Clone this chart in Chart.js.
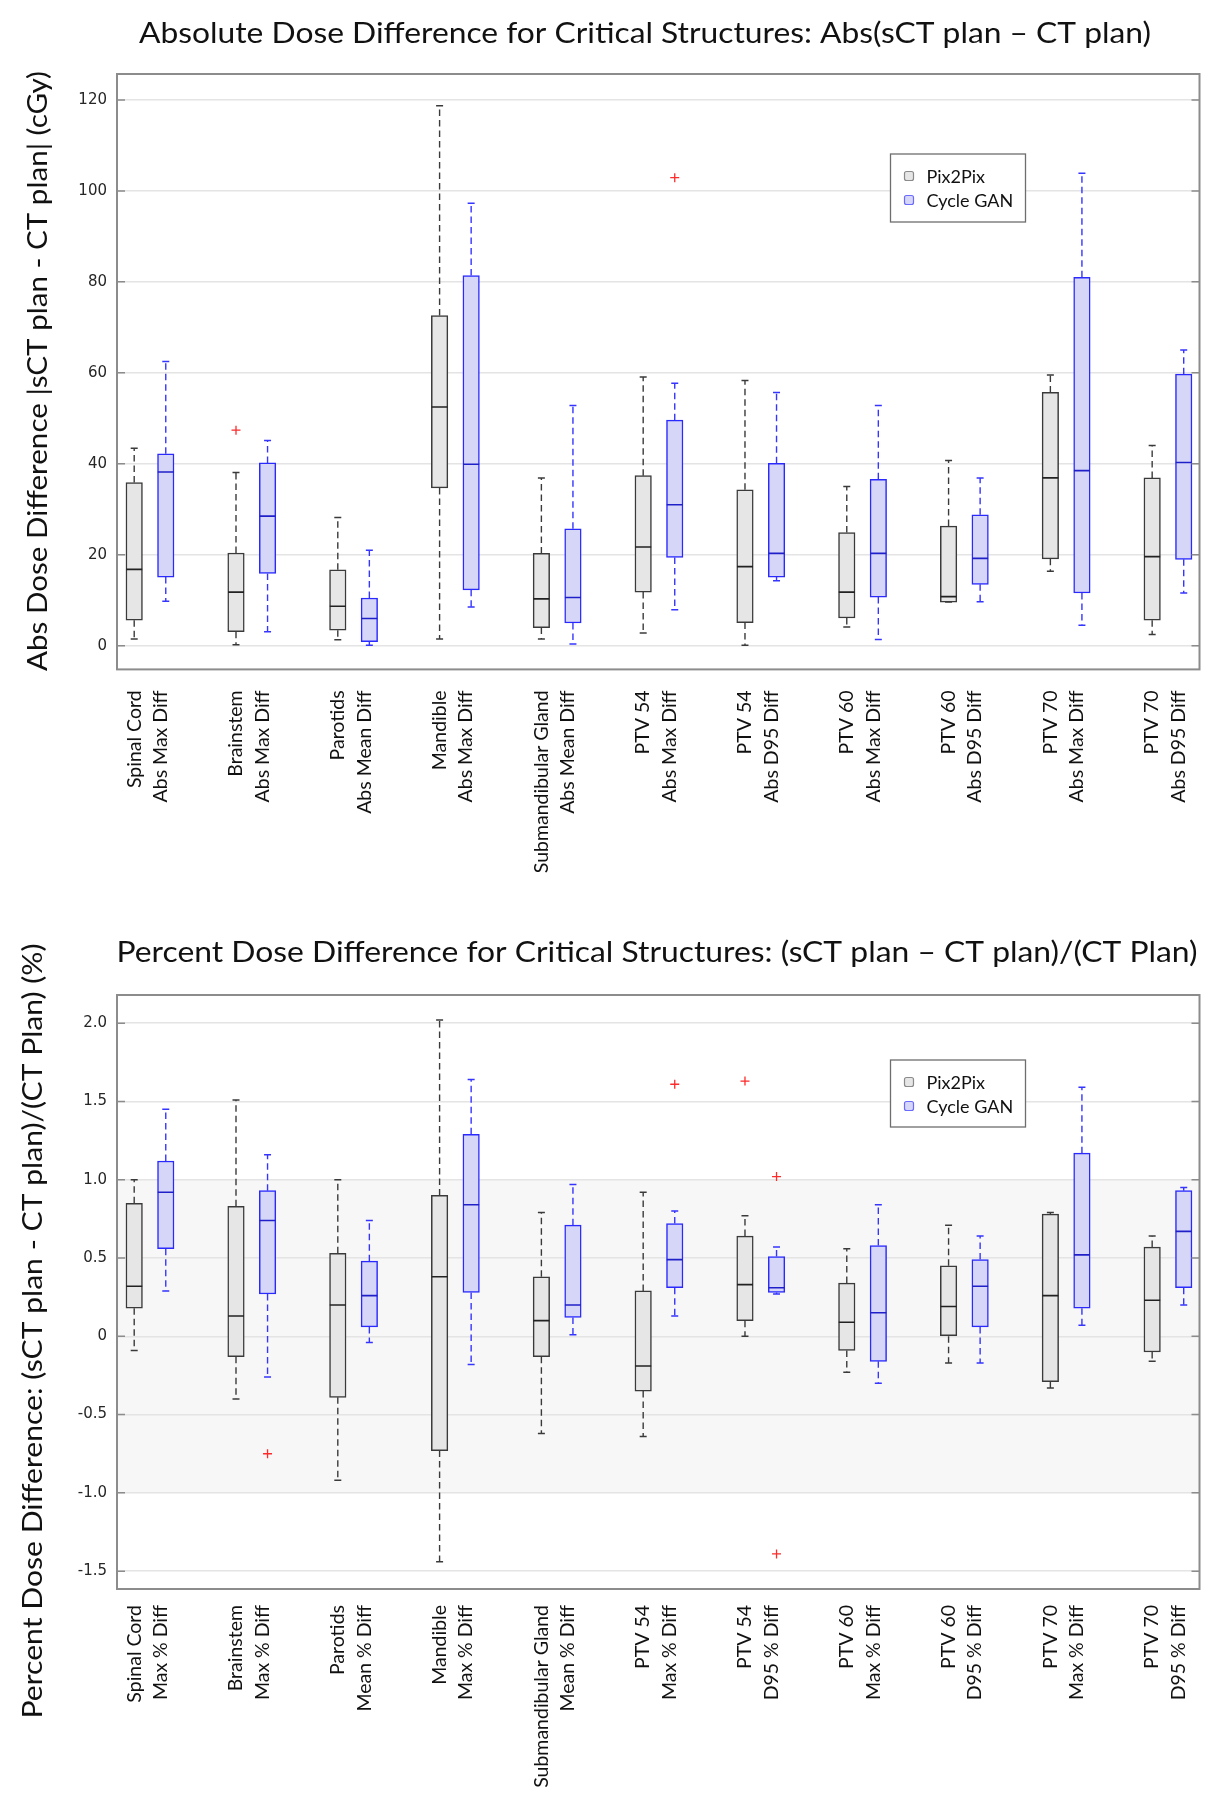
<!DOCTYPE html>
<html>
<head>
<meta charset="utf-8">
<script src="https://cdn.jsdelivr.net/npm/chart.js@4.4.1/dist/chart.umd.min.js"></script>
<style>
  html, body { margin: 0; padding: 0; background: #fff; }
  .wrap { position: relative; width: 1218px; height: 900px; }
</style>
</head>
<body>
<div class="wrap"><canvas id="absChart" width="1218" height="900"></canvas></div>
<div class="wrap"><canvas id="pctChart" width="1218" height="900"></canvas></div>
<script>
// ===================================================
// DOSE DIFFERENCE BOX PLOTS – CHART.JS
// ===================================================

const SERIES = ['Pix2Pix', 'Cycle GAN'];

// ── Absolute dose difference (cGy) ────────────────
const ABS_LABELS = [
  ['Spinal Cord', 'Abs Max Diff'], ['Brainstem', 'Abs Max Diff'], ['Parotids', 'Abs Mean Diff'],
  ['Mandible', 'Abs Max Diff'], ['Submandibular Gland', 'Abs Mean Diff'], ['PTV 54', 'Abs Max Diff'],
  ['PTV 54', 'Abs D95 Diff'], ['PTV 60', 'Abs Max Diff'], ['PTV 60', 'Abs D95 Diff'],
  ['PTV 70', 'Abs Max Diff'], ['PTV 70', 'Abs D95 Diff'],
];
const ABS_TICKS = [0, 20, 40, 60, 80, 100, 120];

const ABS_P2P_MIN = [1.5, 0.2, 1.3, 1.5, 1.5, 2.8, 0.1, 4.1, 9.6, 16.4, 2.5];
const ABS_P2P_Q1  = [5.6, 3.1, 3.4, 34.7, 4.0, 11.8, 5.1, 6.1, 9.6, 19.1, 5.6];
const ABS_P2P_MED = [16.8, 11.8, 8.7, 52.5, 10.3, 21.7, 17.4, 11.8, 10.8, 36.9, 19.6];
const ABS_P2P_Q3  = [35.9, 20.4, 16.7, 72.6, 20.3, 37.4, 34.3, 24.9, 26.3, 55.7, 36.9];
const ABS_P2P_MAX = [43.4, 38.1, 28.2, 118.7, 36.9, 59.1, 58.3, 35.0, 40.7, 59.5, 44.0];
const ABS_P2P_OUT = [[2, 47.4]];

const ABS_CYC_MIN = [9.8, 3.1, 0.1, 8.5, 0.4, 7.9, 14.3, 1.4, 9.7, 4.5, 11.6];
const ABS_CYC_Q1  = [15.1, 15.9, 0.9, 12.3, 5.0, 19.4, 15.1, 10.7, 13.5, 11.6, 19.0];
const ABS_CYC_MED = [38.2, 28.5, 6.0, 39.9, 10.6, 31.0, 20.3, 20.3, 19.2, 38.5, 40.3];
const ABS_CYC_Q3  = [42.2, 40.2, 10.5, 81.4, 25.7, 49.6, 40.1, 36.6, 28.8, 81.0, 59.7];
const ABS_CYC_MAX = [62.5, 45.1, 21.0, 97.3, 52.8, 57.7, 55.7, 52.8, 36.9, 103.9, 65.0];
const ABS_CYC_OUT = [[6, 102.9]];

// ── Percent dose difference (%) ───────────────────
const PCT_LABELS = [
  ['Spinal Cord', 'Max % Diff'], ['Brainstem', 'Max % Diff'], ['Parotids', 'Mean % Diff'],
  ['Mandible', 'Max % Diff'], ['Submandibular Gland', 'Mean % Diff'], ['PTV 54', 'Max % Diff'],
  ['PTV 54', 'D95 % Diff'], ['PTV 60', 'Max % Diff'], ['PTV 60', 'D95 % Diff'],
  ['PTV 70', 'Max % Diff'], ['PTV 70', 'D95 % Diff'],
];
const PCT_TICKS = [-1.5, -1.0, -0.5, 0, 0.5, 1.0, 1.5, 2.0];
const PCT_BAND = [-1.0, 1.0];

const PCT_P2P_MIN = [-0.09, -0.40, -0.92, -1.44, -0.62, -0.64, 0.00, -0.23, -0.17, -0.33, -0.16];
const PCT_P2P_Q1  = [0.18, -0.13, -0.39, -0.73, -0.13, -0.35, 0.10, -0.09, 0.00, -0.29, -0.10];
const PCT_P2P_MED = [0.32, 0.13, 0.20, 0.38, 0.10, -0.19, 0.33, 0.09, 0.19, 0.26, 0.23];
const PCT_P2P_Q3  = [0.85, 0.83, 0.53, 0.90, 0.38, 0.29, 0.64, 0.34, 0.45, 0.78, 0.57];
const PCT_P2P_MAX = [1.00, 1.51, 1.00, 2.02, 0.79, 0.92, 0.77, 0.56, 0.71, 0.79, 0.64];
const PCT_P2P_OUT = [[7, 1.63]];

const PCT_CYC_MIN = [0.29, -0.26, -0.04, -0.18, 0.01, 0.13, 0.27, -0.30, -0.17, 0.07, 0.20];
const PCT_CYC_Q1  = [0.56, 0.27, 0.06, 0.28, 0.12, 0.31, 0.28, -0.16, 0.06, 0.18, 0.31];
const PCT_CYC_MED = [0.92, 0.74, 0.26, 0.84, 0.20, 0.49, 0.31, 0.15, 0.32, 0.52, 0.67];
const PCT_CYC_Q3  = [1.12, 0.93, 0.48, 1.29, 0.71, 0.72, 0.51, 0.58, 0.49, 1.17, 0.93];
const PCT_CYC_MAX = [1.45, 1.16, 0.74, 1.64, 0.97, 0.80, 0.57, 0.84, 0.64, 1.59, 0.95];
const PCT_CYC_OUT = [[2, -0.75], [6, 1.61], [7, 1.02], [7, -1.39]];

// ── Styles ────────────────────────────────────────
const STYLE = {
  p2p: { fill: '#e6e6e6', edge: '#3a3a3a', whisker: '#3a3a3a', median: '#222222', shift: -0.155 },
  cyc: { fill: '#d6d6f8', edge: '#2a2aff', whisker: '#3535ff', median: '#2020c8', shift: 0.155 },
};
const X_MIN = 0.676;
const X_MAX = 11.31;

Chart.defaults.font.family = "'Lato', sans-serif";

function boxDatasets(name, s, outliers, st) {
  const xs = s.med.map((_, i) => i + 1 + st.shift);
  const whiskers = [];
  xs.forEach((x, i) => {
    whiskers.push({ x, y: s.q3[i] }, { x, y: s.max[i] }, { x, y: null },
                  { x, y: s.q1[i] }, { x, y: s.min[i] }, { x, y: null });
  });
  return [
    {
      type: 'bar', label: name,
      data: xs.map((x, i) => ({ x, y: [s.q1[i], s.q3[i]] })),
      backgroundColor: st.fill, borderColor: st.edge, borderWidth: 1.5,
      borderSkipped: false, barThickness: 16.5, grouped: false, order: 5,
    },
    {
      type: 'line', data: whiskers,
      borderColor: st.whisker, borderWidth: 1.4, borderDash: [6.5, 4],
      pointRadius: 0, spanGaps: false, fill: false, tension: 0, order: 4,
    },
    {
      type: 'scatter', data: xs.flatMap((x, i) => [{ x, y: s.max[i] }, { x, y: s.min[i] }]),
      pointStyle: 'line', pointRadius: 3.5, pointBorderColor: st.whisker, pointBorderWidth: 1.5, order: 3,
    },
    {
      type: 'scatter', data: xs.map((x, i) => ({ x, y: s.med[i] })),
      pointStyle: 'line', pointRadius: 8, pointBorderColor: st.median, pointBorderWidth: 1.6, order: 2,
    },
    {
      type: 'scatter', data: outliers.map(([c, v]) => ({ x: c + st.shift, y: v })),
      pointStyle: 'cross', pointRadius: 4.5, pointBorderColor: '#ff2a2a', pointBorderWidth: 1.3, order: 1,
    },
  ];
}

// ── Plugins ───────────────────────────────────────
const frame = {
  id: 'frame',
  beforeDraw(chart, args, opts) {
    if (!opts.band) return;
    const { ctx: c, chartArea: a, scales: { y } } = chart;
    const top = y.getPixelForValue(opts.band[1]);
    const bot = y.getPixelForValue(opts.band[0]);
    c.save();
    c.fillStyle = '#f7f7f7';
    c.fillRect(a.left, top, a.right - a.left, bot - top);
    c.restore();
  },
  afterDatasetsDraw(chart) {
    const { ctx: c, chartArea: a, scales: { y } } = chart;
    c.save();
    c.strokeStyle = '#8c8c8c';
    c.lineWidth = 1.5;
    y.ticks.forEach(t => {
      const py = y.getPixelForValue(t.value);
      c.beginPath();
      c.moveTo(a.left, py); c.lineTo(a.left + 8, py);
      c.moveTo(a.right - 8, py); c.lineTo(a.right, py);
      c.stroke();
    });
    c.lineWidth = 2;
    c.strokeRect(a.left, a.top, a.right - a.left, a.bottom - a.top);
    c.restore();
  }
};

const legendBox = {
  id: 'legendBox',
  afterDraw(chart, args, o) {
    const c = chart.ctx;
    c.save();
    c.fillStyle = '#fff';
    c.fillRect(o.x, o.y, o.w, o.h);
    c.strokeStyle = '#6e6e6e';
    c.lineWidth = 1.3;
    c.strokeRect(o.x, o.y, o.w, o.h);
    c.font = "18px 'Lato'";
    c.textBaseline = 'middle';
    [STYLE.p2p, STYLE.cyc].forEach((st, k) => {
      const cy = o.y + 22 + k * 24;
      c.beginPath();
      c.roundRect(o.x + 14, cy - 4.5, 9, 9, 2);
      c.fillStyle = st.fill; c.fill();
      c.strokeStyle = k ? '#6a6aff' : '#8a8a8a'; c.lineWidth = 1.2; c.stroke();
      c.fillStyle = '#111';
      c.fillText(SERIES[k], o.x + 36, cy + 1);
    });
    c.restore();
  }
};

// titles drawn a bit stretched along the text, like the original figure
function textLayer(items) {
  return {
    id: 'textLayer',
    afterDraw(chart) {
      const c = chart.ctx;
      items.forEach(t => {
        c.save();
        c.font = t.font;
        c.fillStyle = '#111';
        c.textAlign = 'center';
        c.textBaseline = 'middle';
        c.translate(t.x, t.y);
        c.rotate(t.rot || 0);
        c.scale(t.len / c.measureText(t.text).width, 1);
        c.fillText(t.text, 0, 0);
        c.restore();
      });
    }
  };
}

// ── Chart builder ─────────────────────────────────
function makeChart(id, cfg) {
  const ctx = document.getElementById(id);
  return new Chart(ctx, {
    type: 'bar',
    data: {
      datasets: [
        ...boxDatasets(SERIES[0], cfg.p2p, cfg.p2pOut, STYLE.p2p),
        ...boxDatasets(SERIES[1], cfg.cyc, cfg.cycOut, STYLE.cyc),
      ]
    },
    options: {
      responsive: false,
      animation: false,
      devicePixelRatio: 1,
      layout: { padding: { left: 0, right: 18.5, top: cfg.top, bottom: 0 } },
      plugins: {
        legend: { display: false },
        tooltip: { enabled: false },
        title: { display: false },
        legendBox: cfg.legend,
        frame: { band: cfg.band },
      },
      scales: {
        x: {
          type: 'linear', min: X_MIN, max: X_MAX, offset: false,
          afterFit: s => { s.height = cfg.xHeight; s.paddingLeft = 0; s.paddingRight = 0; },
          afterBuildTicks: s => { s.ticks = cfg.labels.map((_, i) => ({ value: i + 1 })); },
          grid: { display: false, offset: false },
          border: { display: false },
          ticks: {
            autoSkip: false, minRotation: 90, maxRotation: 90,
            padding: cfg.xPad, labelOffset: -15.75, color: '#111',
            font: { family: 'Lato', size: 19.5, lineHeight: 26.5 / 19.5 },
            callback: (v, i) => cfg.labels[i],
          }
        },
        y: {
          type: 'linear', min: cfg.yMin, max: cfg.yMax,
          afterFit: s => { s.width = 117; s.paddingTop = 0; s.paddingBottom = 0; },
          afterBuildTicks: s => { s.ticks = cfg.ticks.map(v => ({ value: v })); },
          grid: { color: '#e4e4e4', lineWidth: 1.5, drawTicks: false },
          border: { display: false },
          ticks: {
            padding: 10, color: '#262626',
            font: { family: 'DejaVu Sans', size: 15 },
            callback: cfg.fmt,
          }
        }
      }
    },
    plugins: [frame, legendBox, textLayer(cfg.texts)]
  });
}

window._charts = {
  abs: makeChart('absChart', {
    top: 74,
    labels: ABS_LABELS, ticks: ABS_TICKS, yMin: -5.2, yMax: 125.7,
    fmt: v => String(v),
    p2p: { min: ABS_P2P_MIN, q1: ABS_P2P_Q1, med: ABS_P2P_MED, q3: ABS_P2P_Q3, max: ABS_P2P_MAX },
    cyc: { min: ABS_CYC_MIN, q1: ABS_CYC_Q1, med: ABS_CYC_MED, q3: ABS_CYC_Q3, max: ABS_CYC_MAX },
    p2pOut: ABS_P2P_OUT, cycOut: ABS_CYC_OUT,
    xHeight: 230.6, xPad: 13,
    texts: [
      { text: 'Absolute Dose Difference for Critical Structures: Abs(sCT plan \u2013 CT plan)',
        x: 645, y: 34, len: 1012, font: "28px 'Lato'" },
      { text: 'Abs Dose Difference |sCT plan - CT plan| (cGy)',
        x: 39, y: 371, len: 600, rot: -Math.PI / 2, font: "26px 'Lato'" },
    ],
    legend: { x: 890.5, y: 154, w: 135, h: 68 },
    band: null,
  }),
  pct: makeChart('pctChart', {
    top: 95,
    labels: PCT_LABELS, ticks: PCT_TICKS, yMin: -1.614, yMax: 2.18,
    fmt: v => (v === 0 ? '0' : v.toFixed(1)),
    p2p: { min: PCT_P2P_MIN, q1: PCT_P2P_Q1, med: PCT_P2P_MED, q3: PCT_P2P_Q3, max: PCT_P2P_MAX },
    cyc: { min: PCT_CYC_MIN, q1: PCT_CYC_Q1, med: PCT_CYC_MED, q3: PCT_CYC_Q3, max: PCT_CYC_MAX },
    p2pOut: PCT_P2P_OUT, cycOut: PCT_CYC_OUT,
    xHeight: 211, xPad: 8,
    texts: [
      { text: 'Percent Dose Difference for Critical Structures: (sCT plan \u2013 CT plan)/(CT Plan)',
        x: 657, y: 53, len: 1081, font: "28px 'Lato'" },
      { text: 'Percent Dose Difference: (sCT plan - CT plan)/(CT Plan) (%)',
        x: 34, y: 431, len: 775, rot: -Math.PI / 2, font: "26px 'Lato'" },
    ],
    legend: { x: 890.5, y: 160, w: 135, h: 67 },
    band: PCT_BAND,
  }),
};
</script>
</body>
</html>
